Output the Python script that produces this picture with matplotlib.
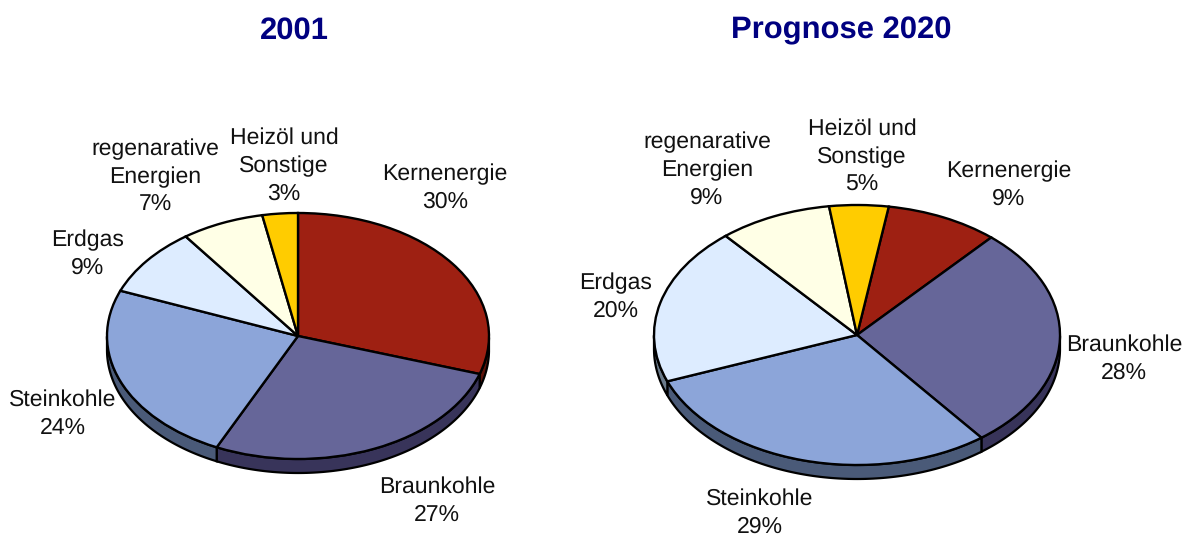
import matplotlib
matplotlib.use('Agg')
import matplotlib.pyplot as plt
import numpy as np
from matplotlib.patches import Polygon
from matplotlib.transforms import Affine2D

plt.rcParams['font.family'] = ['Liberation Sans', 'DejaVu Sans']
plt.rcParams['text.hinting'] = 'no_hinting'
plt.rcParams['text.hinting_factor'] = 1

names = ['Kernenergie', 'Braunkohle', 'Steinkohle', 'Erdgas', 'regenarative\nEnergien', 'Heizöl und\nSonstige']

# Beschriftung in Prozent
labels_2001 = [30, 27, 24, 9, 7, 3]
labels_2020 = [9, 28, 29, 20, 9, 5]
# Segmentgroessen
values_2001 = [30, 27, 24, 9, 7, 3]
values_2020 = [9, 28, 29.7, 19.6, 9, 4.7]

top_colors = ['#9e2012', '#666699', '#8ca5d9', '#ddecff', '#ffffe6', '#ffcc00']
side_colors = ['#5c120a', '#38345a', '#4a5a78', '#6a7a8a', '#8a8a70', '#806600']

W, H = 1185, 536


def draw_pie(ax, values, labels, cx, cy, rx, ry, depth, start, label_pos):
    cy = H - cy
    values = np.array(values, dtype=float)
    edges = np.cumsum(np.r_[0, values]) / values.sum() * 360
    angles = start - edges  # im Uhrzeigersinn

    # Seitenwand, nur unterer Teil sichtbar
    for i in range(len(values)):
        a = np.linspace(angles[i], angles[i + 1], 120)
        a = a[np.sin(np.radians(a)) <= 0]
        if len(a) < 2:
            continue
        x = cx + rx * np.cos(np.radians(a))
        y = cy + ry * np.sin(np.radians(a))
        pts = np.r_[np.c_[x, y], np.c_[x, y - depth][::-1]]
        ax.add_patch(Polygon(pts, closed=True, facecolor=side_colors[i], edgecolor='black', linewidth=1.6, zorder=1))

    wedges, _ = ax.pie(values, colors=top_colors, startangle=start, counterclock=False, radius=1,
                       wedgeprops={'edgecolor': 'black', 'linewidth': 1.7})
    tr = Affine2D().scale(rx, ry).translate(cx, cy) + ax.transData
    for w in wedges:
        w.set_transform(tr)
        w.set_zorder(2)

    for name, val, pos in zip(names, labels, label_pos):
        ax.text(pos[0], H - pos[1], '%s\n%d%%' % (name, val), ha='center', va='center', fontsize=16.25,
                color='#111111', linespacing=1.38, zorder=3)


fig = plt.figure(figsize=(W / 100, H / 100), dpi=100)
ax = fig.add_axes([0, 0, 1, 1])

draw_pie(ax, values_2001, labels_2001, 298, 336, 191, 123, 14, 90,
         [(445, 188), (437, 501), (63, 414), (88, 254), (155, 177), (284, 166)])
draw_pie(ax, values_2020, labels_2020, 857, 335, 203, 130, 14, 81,
         [(1009, 185), (1124, 359), (760, 513), (616, 297), (707, 170), (862, 157)])

ax.set_xlim(0, W)
ax.set_ylim(0, H)
ax.set_aspect('auto')
ax.axis('off')

ax.text(294, H - 31, '2001', ha='center', va='center', fontsize=22.5, fontweight='bold', color='#000080')
ax.text(841, H - 31, 'Prognose 2020', ha='center', va='center', fontsize=22.5, fontweight='bold', color='#000080')

fig.savefig('out.png', dpi=100)
